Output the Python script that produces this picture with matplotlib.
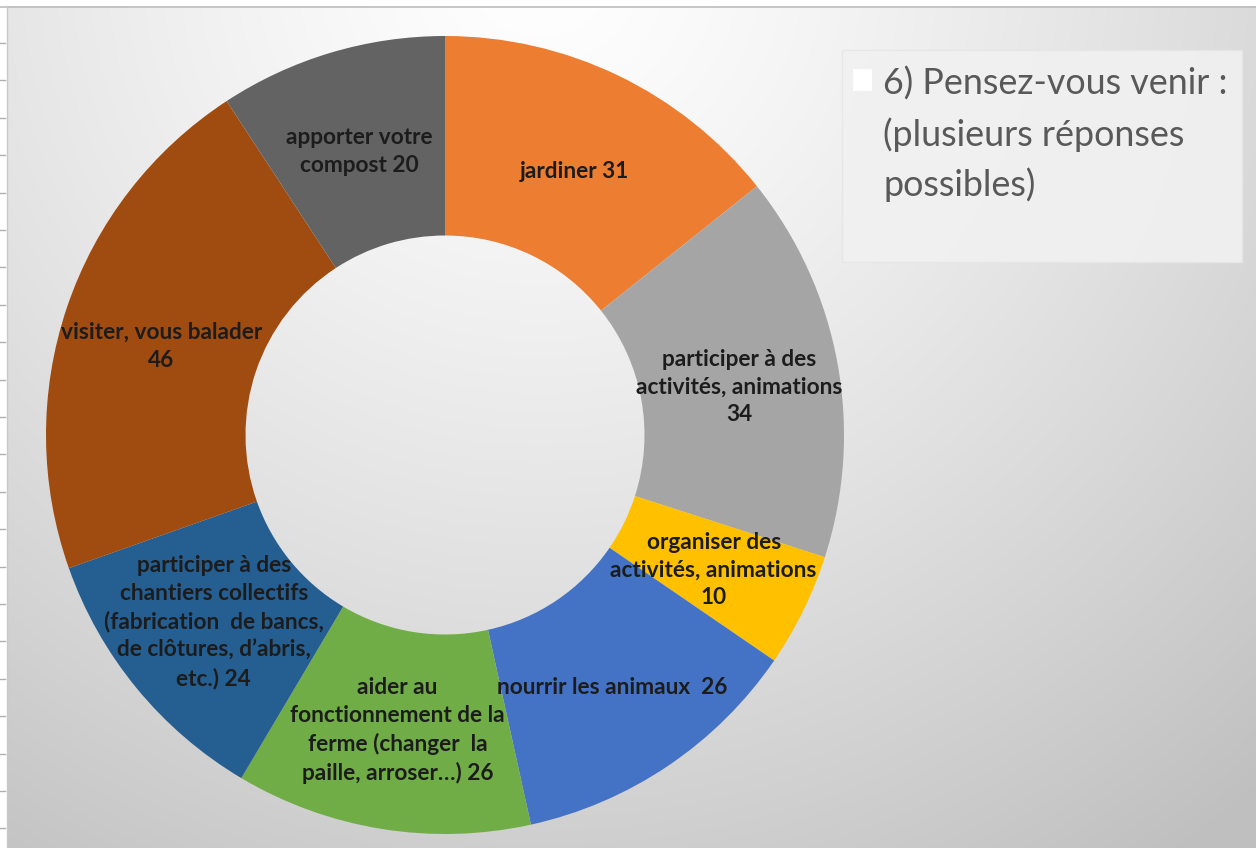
import numpy as np
import matplotlib
matplotlib.use("Agg")
import matplotlib.pyplot as plt
from matplotlib.patches import Rectangle

# ---------------- data ----------------
categories = ["jardiner", "participer activités", "organiser activités", "nourrir animaux",
              "aider fonctionnement", "chantiers collectifs", "visiter", "compost"]
values = [31, 34, 10, 26, 26, 24, 46, 20]
label_templates = [
    "jardiner {}",
    "participer à des\nactivités, animations\n{}",
    "organiser des\nactivités, animations\n{}",
    "nourrir les animaux  {}",
    "aider au\nfonctionnement de la\nferme (changer  la\npaille, arroser…) {}",
    "participer à des\nchantiers collectifs\n(fabrication  de bancs,\nde clôtures, d’abris,\netc.) {}",
    "visiter, vous balader\n{}",
    "apporter votre\ncompost {}",
]
colors = ["#ED7D31", "#A5A5A5", "#FFC000", "#4472C4", "#70AD47", "#255E91", "#A04B0F", "#636363"]
title_text = "6) Pensez-vous venir :\n(plusieurs réponses\npossibles)"

# label vertical nudges in pixels (down positive)
nudges_y = [6, 6, 3, 4, 0, -3, 7, 3]
label_size = 16.3
line_step_px = 27.5

W, H = 1256, 848
fig = plt.figure(figsize=(W / 100, H / 100), dpi=100)

# ---------------- background ----------------
bg = fig.add_axes([0, 0, 1, 1])
yy, xx = np.mgrid[0:H, 0:W]
d = np.sqrt((xx - 540) ** 2 + (yy + 40) ** 2)
t = np.clip(d / 1100.0, 0, 1)
val = 1.0 - 0.25 * t ** 1.3
img = np.dstack([val, val, val])
bg.imshow(img, extent=(0, W, H, 0), aspect="auto", interpolation="bilinear")
bg.set_xlim(0, W)
bg.set_ylim(H, 0)
bg.axis("off")
# top white strip and left strip with ticks
bg.add_patch(Rectangle((0, 0), W, 6, facecolor="white", edgecolor="none"))
bg.plot([0, W], [6.5, 6.5], color="#bdbdbd", lw=1.2)
bg.add_patch(Rectangle((0, 0), 7, H, facecolor="white", edgecolor="none"))
bg.plot([7, 7], [6, H], color="#c8c8c8", lw=1.0)
for ty in np.arange(43, H, 37.4):
    bg.plot([0, 5], [ty, ty], color="#b0b0b0", lw=1.0)

# legend box
bg.add_patch(Rectangle((842, 50), 400, 212, facecolor="#f1f1f1", edgecolor="#e6e6e6", lw=1, alpha=0.9))
bg.add_patch(Rectangle((853, 69), 19, 22, facecolor="white", edgecolor="none"))
bg.text(883, 67, title_text, fontsize=25.8, family="Lato", color="#595959",
        va="top", ha="left", linespacing=1.56)

# ---------------- donut ----------------
cx, cy, R = 445, 435, 399
ax = fig.add_axes([(cx - R) / W, (H - cy - R) / H, 2 * R / W, 2 * R / H])
wedges, _ = ax.pie(values, colors=colors, startangle=90, counterclock=False,
                   radius=1.0, wedgeprops=dict(width=0.5, edgecolor="none"))
ax.set_xlim(-1, 1)
ax.set_ylim(-1, 1)
ax.set_aspect("equal")
ax.axis("off")

scale = 1.0 / R  # data units per pixel
ls = line_step_px / (label_size * 100 / 72 * 0.87)
for w, tmpl, v, dy in zip(wedges, label_templates, values, nudges_y):
    ang = np.deg2rad((w.theta1 + w.theta2) / 2)
    r = 0.75
    x = r * np.cos(ang)
    y = r * np.sin(ang) - dy * scale
    ax.text(x, y, tmpl.format(v), ha="center", va="center", fontsize=label_size,
            family="Lato", fontweight="bold", color="#1c1c1c", linespacing=ls)

fig.savefig("out.png", dpi=100)
